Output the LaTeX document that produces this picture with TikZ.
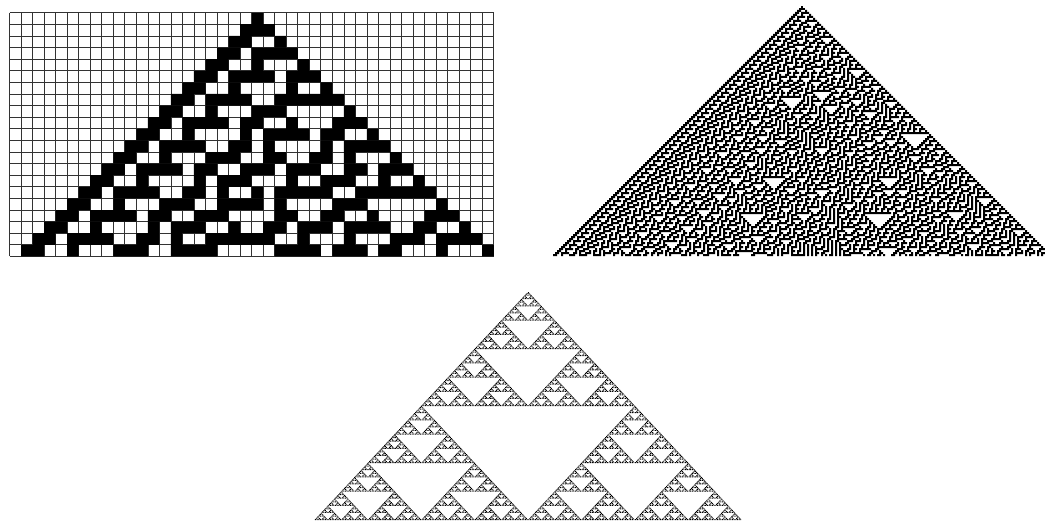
\documentclass[tikz,border=0pt]{standalone}
\usepackage{tikz}

\makeatletter
\newcount\ca@t \newcount\ca@i \newcount\ca@s \newcount\ca@n
\newdimen\ca@x \newdimen\ca@y \newdimen\ca@w \newdimen\ca@h \newdimen\ca@ov
\def\ca@none{99999\relax}
\def\ca@get#1#2{\csname ca#1:\number\numexpr#2\relax\endcsname}
% new cell for neighbourhoods 111 110 101 100 011 010 001 000
\def\carule#1#2#3#4#5#6#7#8{%
  \expandafter\def\csname car7\endcsname{#1}%
  \expandafter\def\csname car6\endcsname{#2}%
  \expandafter\def\csname car5\endcsname{#3}%
  \expandafter\def\csname car4\endcsname{#4}%
  \expandafter\def\csname car3\endcsname{#5}%
  \expandafter\def\csname car2\endcsname{#6}%
  \expandafter\def\csname car1\endcsname{#7}%
  \expandafter\def\csname car0\endcsname{#8}}
\def\ca@box{%
  \pgfpathrectangle
    {\pgfqpoint{\dimexpr\ca@x+\ca@s\ca@w\relax}{\dimexpr\ca@y-\ca@t\ca@h-\ca@h\relax}}%
    {\pgfqpoint{\dimexpr\numexpr\ca@i-\ca@s\relax\ca@w+\ca@ov\relax}{\dimexpr\ca@h+\ca@ov\relax}}}
% #1 steps, #2 left edge of the first cell, #3 top edge, #4 cell width, #5 cell height, #6 overlap
\def\carun#1#2#3#4#5#6{%
  \ca@n=#1\relax
  \ca@x=#2pt\relax \ca@y=-#3pt\relax
  \ca@w=#4pt\relax \ca@h=#5pt\relax \ca@ov=#6pt\relax
  \ca@i=-\numexpr\ca@n+3\relax
  \loop
    \expandafter\def\csname ca0:\number\ca@i\endcsname{0}%
    \expandafter\def\csname ca1:\number\ca@i\endcsname{0}%
    \advance\ca@i 1
  \ifnum\ca@i<\numexpr\ca@n+4\relax\repeat
  \expandafter\def\csname ca0:0\endcsname{1}%
  \def\ca@p{0}\def\ca@q{1}%
  \ca@t=0
  \ca@step}
\def\ca@step{%
  % black runs of row \ca@t
  \ca@i=-\ca@t \ca@s=\ca@none
  \loop
    \ifnum\ca@get\ca@p\ca@i=1
      \ifnum\ca@s=\ca@none \ca@s=\ca@i \fi
    \else
      \ifnum\ca@s=\ca@none\else \ca@box \ca@s=\ca@none \fi
    \fi
    \advance\ca@i 1
  \ifnum\ca@i<\numexpr\ca@t+2\relax\repeat
  \pgfusepath{fill}%
  % next row
  \ca@i=-\numexpr\ca@t+1\relax
  \loop
    \expandafter\edef\csname ca\ca@q:\number\ca@i\endcsname{%
      \csname car\number\numexpr 4*\ca@get\ca@p{\ca@i-1}+2*\ca@get\ca@p\ca@i+\ca@get\ca@p{\ca@i+1}\relax\endcsname}%
    \advance\ca@i 1
  \ifnum\ca@i<\numexpr\ca@t+2\relax\repeat
  \let\ca@tmp\ca@p \let\ca@p\ca@q \let\ca@q\ca@tmp
  \advance\ca@t 1
  \ifnum\ca@t<\ca@n \expandafter\ca@step\fi}
\makeatother

\begin{document}
\begin{tikzpicture}[x=1pt, y=-1pt,
    gridline/.style={draw=black!80, line width=0.7pt},
]
\fill[white] (0,0) rectangle (1045,527);
\useasboundingbox (0,0) rectangle (1045,527);

% rule 30 on the grid
\foreach \c in {0,...,42}
  \draw[gridline] ({9.5+\c*11.53},12.8) -- ++(0,243.6);
\foreach \r in {0,...,21}
  \draw[gridline] (9.5,{12.8+\r*11.6}) -- ++(484.26,0);
\carule 00011110
\carun{21}{251.63}{12.8}{11.53}{11.6}{0}

% rule 30, more steps
\carun{125}{801}{6}{2}{2}{0}

% rule 90
\carule 01011010
\carun{256}{527.6}{292}{0.834}{0.891}{0.1}
\end{tikzpicture}
\end{document}
